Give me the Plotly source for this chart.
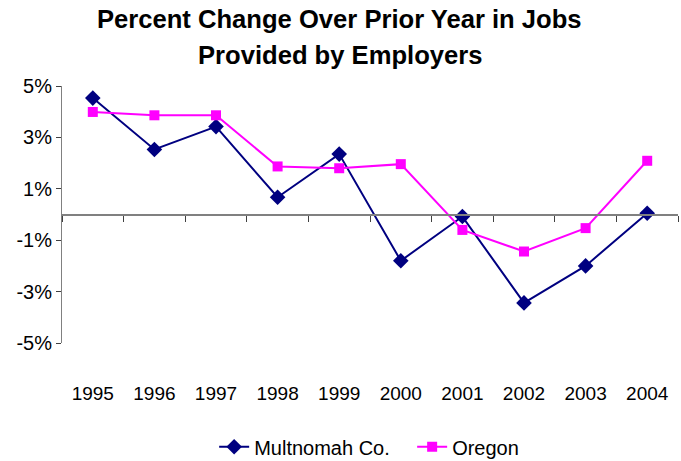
import plotly.graph_objects as go

# Data.
years = ['1995', '1996', '1997', '1998', '1999', '2000', '2001', '2002', '2003', '2004']
multnomah = [4.53, 2.53, 3.42, 0.67, 2.35, -1.80, -0.08, -3.44, -2.00, 0.05]
oregon = [3.99, 3.86, 3.86, 1.87, 1.80, 1.96, -0.60, -1.44, -0.53, 2.09]
y_ticks = [-5, -3, -1, 1, 3, 5]
y_labels = ['-5%', '-3%', '-1%', '1%', '3%', '5%']
title_lines = ['Percent Change Over Prior Year in Jobs', 'Provided by Employers']

font = 'Liberation Sans, Arial, sans-serif'

fig = go.Figure()

fig.add_trace(
	go.Scatter(
		x=years,
		y=multnomah,
		mode='lines+markers',
		name='Multnomah Co.',
		line=dict(color='#000080', width=2),
		marker=dict(symbol='diamond', size=12, color='#000080'),
	)
)
fig.add_trace(
	go.Scatter(
		x=years,
		y=oregon,
		mode='lines+markers',
		name='Oregon',
		line=dict(color='#FF00FF', width=2),
		marker=dict(symbol='square', size=10, color='#FF00FF'),
	)
)
# Empty trace so the zero-line axis gets drawn.
fig.add_trace(
	go.Scatter(
		x=years,
		y=[None] * len(years),
		xaxis='x2',
		showlegend=False,
		hoverinfo='skip',
	)
)

# Two title lines, spaced wider than a <br> title allows.
for i, line in enumerate(title_lines):
	fig.add_annotation(
		text='<b>' + line + '</b>',
		xref='paper',
		yref='paper',
		x=0.451,
		y=1.26 - i * 0.14,
		xanchor='center',
		yanchor='middle',
		showarrow=False,
		font=dict(family=font, size=25.6, color='black'),
	)

fig.update_layout(
	width=681,
	height=461,
	margin=dict(l=62, r=3, t=86, b=118),
	paper_bgcolor='white',
	plot_bgcolor='white',
	font=dict(family=font, size=19, color='black'),
	xaxis=dict(
		type='category',
		range=[-0.5, 9.5],
		showline=False,
		showgrid=False,
		zeroline=False,
		ticks='outside',
		ticklen=33,
		tickcolor='rgba(0,0,0,0)',
		tickfont=dict(size=19),
	),
	xaxis2=dict(
		type='category',
		range=[-0.5, 9.5],
		overlaying='x',
		anchor='free',
		position=0.5,
		side='bottom',
		showline=True,
		linecolor='#808080',
		linewidth=2,
		showgrid=False,
		zeroline=False,
		tickson='boundaries',
		ticks='outside',
		ticklen=6,
		tickcolor='#404040',
		showticklabels=False,
	),
	yaxis=dict(
		range=[-5, 5],
		tickvals=y_ticks,
		ticktext=y_labels,
		showline=True,
		linecolor='#808080',
		linewidth=1,
		showgrid=False,
		zeroline=False,
		ticks='outside',
		ticklen=5,
		tickcolor='#404040',
		tickfont=dict(size=20),
	),
	legend=dict(
		orientation='h',
		x=0.247,
		xanchor='left',
		yref='container',
		y=0.031,
		yanchor='middle',
		entrywidth=153,
		font=dict(size=20),
	),
	showlegend=True,
)

# Drop the default 8px page margin so the figure fills the window.
fig.write_html(
	'out.html',
	config={'displayModeBar': False},
	post_script="document.body.style.margin = '0px';",
)
